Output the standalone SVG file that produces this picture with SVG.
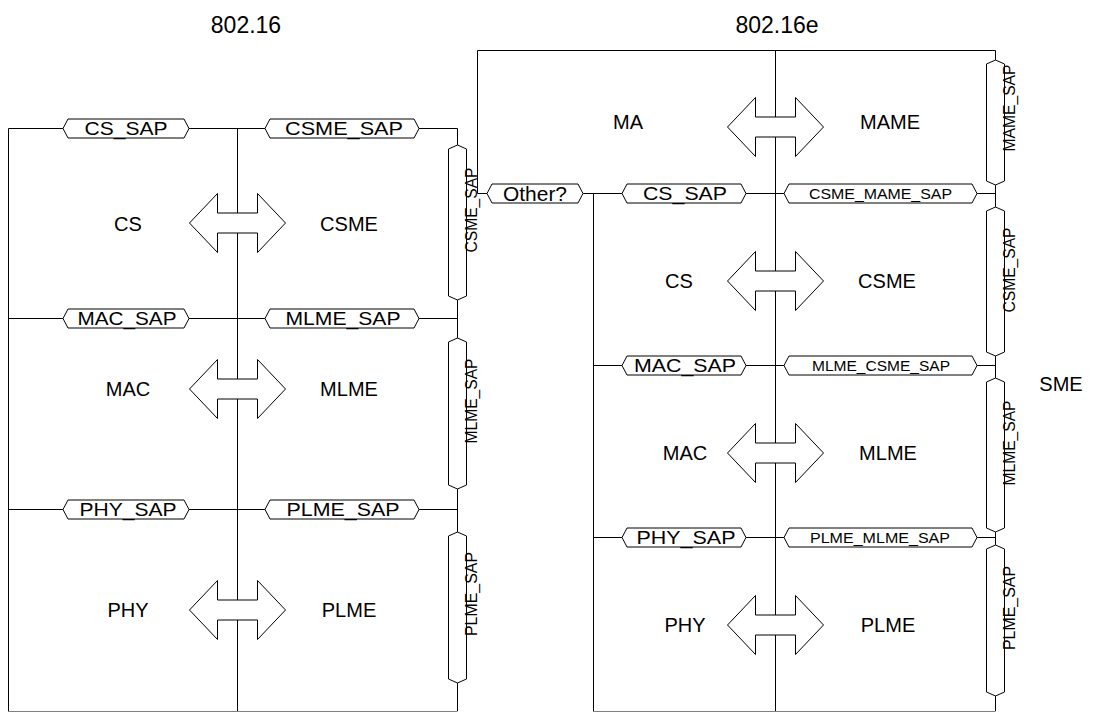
<svg xmlns="http://www.w3.org/2000/svg" width="1109" height="713" viewBox="0 0 1109 713">
<style>
.ln{stroke:#000;stroke-width:1;fill:none}
.gl{stroke:#808080;stroke-width:1;fill:none}
.hx{fill:#fff;stroke:#000;stroke-width:1}
.ar{fill:#fff;stroke:#000;stroke-width:1}
text{font-family:"Liberation Sans",Arial,sans-serif;fill:#000}
.t{font-size:23px;text-anchor:middle}
.b{font-size:20px;text-anchor:middle}
.s{font-size:19px;text-anchor:middle}
.m{font-size:14px;text-anchor:middle}
.v{font-size:16.5px;text-anchor:middle}
</style>
<defs>
<path id="arrow" d="M-48,0 L-20,-29.5 L-20,-10 L20,-10 L20,-29.5 L48,0 L20,29.5 L20,10 L-20,10 L-20,29.5 Z"/>
</defs>
<rect width="1109" height="713" fill="#fff"/>
<text class="t" x="246" y="33">802.16</text>
<text class="t" x="777" y="33">802.16e</text>
<g id="connectors">
<path class="ln" d="M8.5,711 V128.5 H457.5 V711"/>
<path class="ln" d="M237.5,128 V711"/>
<path class="ln" d="M8,318.5 H457.5"/>
<path class="ln" d="M8,509.5 H457.5"/>
<path class="gl" d="M8,711.5 H457.5"/>
<path class="ln" d="M487,193.5 H477.5 V50.5 H995.5 V711"/>
<path class="ln" d="M583,193.5 H995.5"/>
<path class="ln" d="M593.5,193 V711"/>
<path class="ln" d="M775.5,50 V711"/>
<path class="ln" d="M593,365.5 H995.5"/>
<path class="ln" d="M593,537.5 H995.5"/>
<path class="gl" d="M593,711.5 H995.5"/>
</g>
<g id="left-sap-cs">
<polygon class="hx" points="63,128.5 68,119 184,119 189,128.5 184,138 68,138"/>
<text class="s" x="126" y="135" textLength="83" lengthAdjust="spacingAndGlyphs">CS_SAP</text>
</g>
<g id="left-sap-csme">
<polygon class="hx" points="265,128.5 270,119 414,119 419,128.5 414,138 270,138"/>
<text class="s" x="344" y="135" textLength="118" lengthAdjust="spacingAndGlyphs">CSME_SAP</text>
</g>
<g id="left-sap-mac">
<polygon class="hx" points="63,318.5 68,309 184,309 189,318.5 184,328 68,328"/>
<text class="s" x="127" y="325" textLength="99" lengthAdjust="spacingAndGlyphs">MAC_SAP</text>
</g>
<g id="left-sap-mlme">
<polygon class="hx" points="265,318.5 270,309 414,309 419,318.5 414,328 270,328"/>
<text class="s" x="343" y="325" textLength="115" lengthAdjust="spacingAndGlyphs">MLME_SAP</text>
</g>
<g id="left-sap-phy">
<polygon class="hx" points="63,509.5 68,500 184,500 189,509.5 184,519 68,519"/>
<text class="s" x="128" y="516" textLength="97" lengthAdjust="spacingAndGlyphs">PHY_SAP</text>
</g>
<g id="left-sap-plme">
<polygon class="hx" points="265,509.5 270,500 414,500 419,509.5 414,519 270,519"/>
<text class="s" x="343" y="516" textLength="113" lengthAdjust="spacingAndGlyphs">PLME_SAP</text>
</g>
<g id="left-vsap-csme">
<polygon class="hx" points="457.5,145 466.5,149 466.5,296 457.5,300 448.5,296 448.5,149"/>
<text class="v" transform="translate(477,210) rotate(-90)" textLength="85" lengthAdjust="spacingAndGlyphs">CSME_SAP</text>
</g>
<g id="left-vsap-mlme">
<polygon class="hx" points="457.5,338 466.5,342 466.5,485 457.5,489 448.5,485 448.5,342"/>
<text class="v" transform="translate(477,401) rotate(-90)" textLength="85" lengthAdjust="spacingAndGlyphs">MLME_SAP</text>
</g>
<g id="left-vsap-plme">
<polygon class="hx" points="457.5,532 466.5,536 466.5,679 457.5,683 448.5,679 448.5,536"/>
<text class="v" transform="translate(477,594) rotate(-90)" textLength="84" lengthAdjust="spacingAndGlyphs">PLME_SAP</text>
</g>
<g id="other">
<polygon class="hx" points="487,193.5 492,184 578,184 583,193.5 578,203 492,203"/>
<text class="b" x="535" y="200.5" textLength="64" lengthAdjust="spacingAndGlyphs">Other?</text>
</g>
<g id="right-sap-cs">
<polygon class="hx" points="622,193.5 627,184 741,184 746,193.5 741,203 627,203"/>
<text class="s" x="685" y="200" textLength="84" lengthAdjust="spacingAndGlyphs">CS_SAP</text>
</g>
<g id="right-sap-csme-mame">
<polygon class="hx" points="784,193.5 789,184 972,184 977,193.5 972,203 789,203"/>
<text class="m" x="880.5" y="198.5" textLength="143" lengthAdjust="spacingAndGlyphs">CSME_MAME_SAP</text>
</g>
<g id="right-sap-mac">
<polygon class="hx" points="622,365.5 627,356 741,356 746,365.5 741,375 627,375"/>
<text class="s" x="685" y="372" textLength="102" lengthAdjust="spacingAndGlyphs">MAC_SAP</text>
</g>
<g id="right-sap-mlme-csme">
<polygon class="hx" points="784,365.5 789,356 972,356 977,365.5 972,375 789,375"/>
<text class="m" x="881" y="370.5" textLength="138" lengthAdjust="spacingAndGlyphs">MLME_CSME_SAP</text>
</g>
<g id="right-sap-phy">
<polygon class="hx" points="622,537.5 627,528 741,528 746,537.5 741,547 627,547"/>
<text class="s" x="686" y="544" textLength="99" lengthAdjust="spacingAndGlyphs">PHY_SAP</text>
</g>
<g id="right-sap-plme-mlme">
<polygon class="hx" points="784,537.5 789,528 972,528 977,537.5 972,547 789,547"/>
<text class="m" x="880" y="542.5" textLength="140" lengthAdjust="spacingAndGlyphs">PLME_MLME_SAP</text>
</g>
<g id="right-vsap-mame">
<polygon class="hx" points="995.5,60 1004.5,64 1004.5,181 995.5,185 986.5,181 986.5,64"/>
<text class="v" transform="translate(1015,108) rotate(-90)" textLength="87" lengthAdjust="spacingAndGlyphs">MAME_SAP</text>
</g>
<g id="right-vsap-csme">
<polygon class="hx" points="995.5,207 1004.5,211 1004.5,352 995.5,356 986.5,352 986.5,211"/>
<text class="v" transform="translate(1015,270) rotate(-90)" textLength="85" lengthAdjust="spacingAndGlyphs">CSME_SAP</text>
</g>
<g id="right-vsap-mlme">
<polygon class="hx" points="995.5,378 1004.5,382 1004.5,528 995.5,532 986.5,528 986.5,382"/>
<text class="v" transform="translate(1015,443) rotate(-90)" textLength="85" lengthAdjust="spacingAndGlyphs">MLME_SAP</text>
</g>
<g id="right-vsap-plme">
<polygon class="hx" points="995.5,545 1004.5,549 1004.5,692 995.5,696 986.5,692 986.5,549"/>
<text class="v" transform="translate(1015,608) rotate(-90)" textLength="84" lengthAdjust="spacingAndGlyphs">PLME_SAP</text>
</g>
<g id="left-cs">
<use href="#arrow" class="ar" x="237.5" y="223"/>
<text class="b" x="128" y="231">CS</text>
<text class="b" x="349" y="231">CSME</text>
</g>
<g id="left-mac">
<use href="#arrow" class="ar" x="237.5" y="389"/>
<text class="b" x="128" y="396">MAC</text>
<text class="b" x="349" y="396">MLME</text>
</g>
<g id="left-phy">
<use href="#arrow" class="ar" x="237.5" y="610"/>
<text class="b" x="128" y="617">PHY</text>
<text class="b" x="349" y="617">PLME</text>
</g>
<g id="right-ma">
<use href="#arrow" class="ar" x="775.5" y="127"/>
<text class="b" x="628" y="129">MA</text>
<text class="b" x="890" y="129">MAME</text>
</g>
<g id="right-cs">
<use href="#arrow" class="ar" x="775.5" y="281"/>
<text class="b" x="679" y="288">CS</text>
<text class="b" x="887" y="288">CSME</text>
</g>
<g id="right-mac">
<use href="#arrow" class="ar" x="775.5" y="453"/>
<text class="b" x="685" y="460">MAC</text>
<text class="b" x="888" y="460">MLME</text>
</g>
<g id="right-phy">
<use href="#arrow" class="ar" x="775.5" y="625"/>
<text class="b" x="685" y="632">PHY</text>
<text class="b" x="888" y="632">PLME</text>
</g>
<g id="sme">
<text class="b" x="1061" y="391">SME</text>
</g>
</svg>
